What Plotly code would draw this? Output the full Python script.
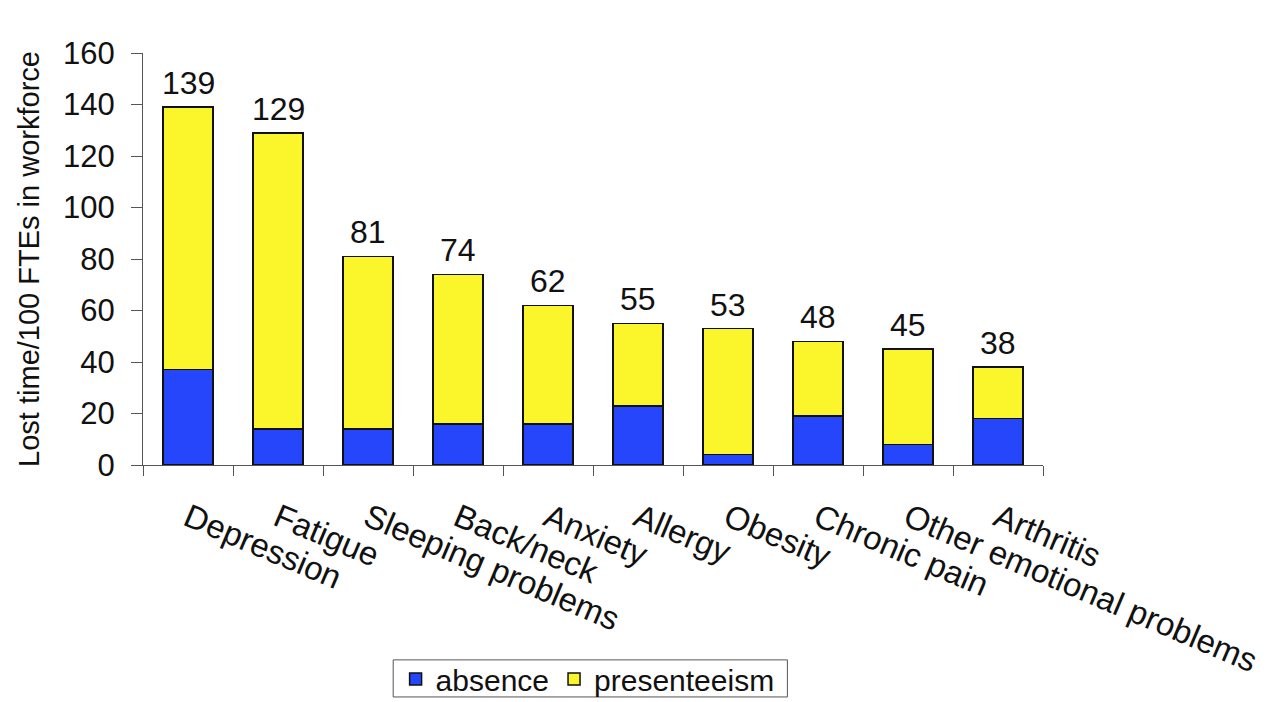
import plotly.graph_objects as go

conditions = ["Depression", "Fatigue", "Sleeping problems", "Back/neck", "Anxiety",
              "Allergy", "Obesity", "Chronic pain", "Other emotional problems", "Arthritis"]
totals = [139, 129, 81, 74, 62, 55, 53, 48, 45, 38]
absence = [37, 14, 14, 16, 16, 23, 4, 19, 8, 18]
presenteeism = [t - a for t, a in zip(totals, absence)]

FONT = "Liberation Sans, Arial, sans-serif"

fig = go.Figure()
fig.add_trace(go.Bar(
    x=conditions, y=absence, name="absence",
    marker=dict(color="#2546FA", line=dict(color="#111111", width=1.5)),
    width=0.56,
))
fig.add_trace(go.Bar(
    x=conditions, y=presenteeism, name="presenteeism",
    marker=dict(color="#FBF52B", line=dict(color="#111111", width=1.5)),
    width=0.56,
))

# total value above each stacked bar
for cat, tot in zip(conditions, totals):
    fig.add_annotation(
        x=cat, y=tot, text=str(tot), showarrow=False,
        yanchor="bottom", yshift=4,
        font=dict(family=FONT, size=32, color="#111111"),
    )

# frame around the legend
fig.add_shape(
    type="rect", xref="paper", yref="paper",
    x0=0.278, x1=0.716, y0=-0.563, y1=-0.473,
    line=dict(color="#555555", width=1), fillcolor="rgba(0,0,0,0)",
)

fig.update_layout(
    barmode="stack",
    width=1278, height=702,
    margin=dict(l=143, r=235, t=53, b=237),
    paper_bgcolor="white", plot_bgcolor="white",
    font=dict(family=FONT, size=28, color="#111111"),
    legend=dict(
        orientation="h", x=0.494, xanchor="center",
        yref="container", y=(702 - 679) / 702, yanchor="middle",
        borderwidth=0, bgcolor="rgba(0,0,0,0)", font=dict(size=30),
        traceorder="normal", itemwidth=30,
    ),
    xaxis=dict(
        tickangle=23, showline=True, linecolor="#555555", linewidth=1,
        ticks="outside", tickson="boundaries", ticklen=10, tickcolor="#555555",
        tickfont=dict(size=33), showgrid=False, automargin=False,
        ticklabelstandoff=20,
    ),
    yaxis=dict(
        range=[0, 160], dtick=20, showline=True, linecolor="#555555", linewidth=1,
        ticks="outside", ticklen=11, tickcolor="#555555", showgrid=False,
        tickfont=dict(size=31), zeroline=False, automargin=False,
        ticklabelstandoff=10,
        title=dict(text="Lost time/100 FTEs in workforce", font=dict(size=29), standoff=14),
    ),
)

fig.write_html("out.html")
